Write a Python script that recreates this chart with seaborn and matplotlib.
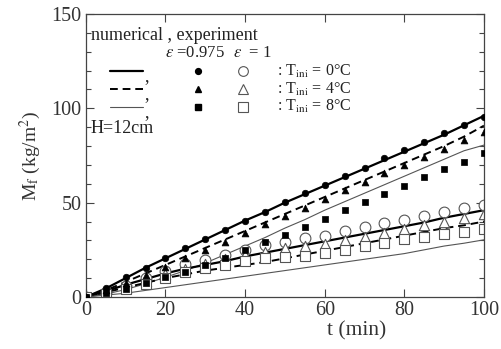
import matplotlib
matplotlib.use("Agg")
import matplotlib.pyplot as plt
from matplotlib.lines import Line2D
from matplotlib.ticker import MultipleLocator
import numpy as np
import pandas as pd
import seaborn as sns


# time axis (min), experiments every 5 minutes
t = [0, 5, 10, 15, 20, 25, 30, 35, 40, 45, 50, 55, 60, 65, 70, 75, 80, 85, 90, 95, 100]

# experiment, eps = 0.975 (filled markers)
exp_e0975_T0 = [0, 4.6, 10.4, 15.5, 20.5, 25.8, 30.6, 35.5, 40.4, 45.0, 50.5, 55.3, 59.5, 64.0, 68.5, 73.5, 77.9, 82.3, 86.8, 91.2, 95.5]
exp_e0975_T4 = [0, 3.5, 7.5, 11.7, 16.0, 20.5, 24.9, 29.3, 33.7, 38.7, 42.9, 47.3, 51.9, 56.5, 61.0, 65.8, 70.2, 74.3, 78.5, 83.2, 87.6]
exp_e0975_T8 = [0, 2.0, 4.5, 7.5, 10.5, 13.5, 17.0, 20.5, 24.9, 29.0, 32.9, 37.3, 41.5, 45.9, 50.3, 54.5, 59.0, 63.5, 67.6, 71.7, 76.2]

# experiment, eps = 1 (open markers)
exp_e1_T0 = [0, 2.5, 6.0, 10.0, 14.0, 17.5, 19.6, 22.3, 25.0, 27.6, 29.3, 31.1, 32.5, 34.8, 37.3, 39.0, 40.8, 42.8, 45.0, 47.0, 49.0]
exp_e1_T4 = [0, 2.0, 5.0, 8.5, 12.0, 15.0, 17.5, 20.0, 22.5, 24.0, 25.8, 27.0, 28.1, 30.0, 32.0, 33.7, 35.9, 38.2, 40.0, 41.7, 44.0]
exp_e1_T8 = [0, 1.5, 4.0, 7.0, 10.0, 13.0, 15.5, 17.0, 19.0, 20.5, 21.0, 21.7, 23.1, 25.0, 27.0, 28.4, 30.6, 32.0, 33.2, 34.6, 36.3]

# numerical results
num_e0975_T0 = [0, 4.5, 10.0, 15.5, 20.5, 25.5, 30.5, 35.5, 40.5, 45.0, 50.0, 54.5, 59.0, 63.5, 68.0, 72.5, 77.0, 81.5, 86.0, 91.0, 96.0]
num_e0975_T4 = [0, 3.5, 8.0, 12.5, 17.0, 21.5, 26.0, 30.5, 35.0, 39.5, 44.0, 48.5, 53.0, 57.5, 62.0, 66.5, 71.0, 75.5, 80.0, 85.0, 90.8]
num_e0975_T8 = [0, 1.5, 4.0, 7.0, 10.5, 14.0, 18.0, 22.5, 27.0, 31.5, 36.5, 41.0, 46.0, 50.5, 55.0, 59.5, 64.0, 68.5, 73.0, 77.5, 80.5]
num_e1_T0 = [0, 3.0, 6.5, 9.5, 12.5, 15.0, 17.0, 19.0, 21.5, 23.5, 25.5, 27.5, 29.5, 31.5, 33.5, 35.5, 37.5, 39.5, 42.0, 44.0, 46.0]
num_e1_T4 = [0, 2.5, 5.0, 7.5, 10.0, 12.0, 14.0, 15.5, 17.0, 18.5, 20.5, 22.5, 24.5, 26.5, 28.5, 30.5, 32.5, 34.5, 36.5, 38.0, 40.0]
num_e1_T8 = [0, 1.0, 2.0, 3.5, 5.0, 6.5, 8.0, 9.5, 11.0, 12.5, 14.0, 15.5, 17.0, 18.5, 20.0, 21.5, 23.0, 25.0, 27.0, 28.5, 30.3]

temp_labels = ["0°C", "4°C", "8°C"]

sns.set_theme(style="ticks")
plt.rcParams["font.family"] = ["Liberation Serif", "DejaVu Serif"]
plt.rcParams["mathtext.fontset"] = "stix"
plt.rcParams["text.color"] = "#222222"
plt.rcParams["axes.labelcolor"] = "#333333"

fig = plt.figure(figsize=(5.02, 3.49), dpi=100)
ax = fig.add_axes([0.171, 0.149, 0.793, 0.811])

line_styles = [
    dict(linestyle="-", linewidth=1.6, color="black"),
    dict(linestyle=(0, (4, 2.5)), linewidth=1.4, color="black"),
    dict(linestyle="-", linewidth=0.8, color="#555555"),
]
for series, style in zip([num_e0975_T0, num_e0975_T4, num_e0975_T8], line_styles):
    sns.lineplot(x=t, y=series, ax=ax, **style)
for series, style in zip([num_e1_T0, num_e1_T4, num_e1_T8], line_styles):
    sns.lineplot(x=t, y=series, ax=ax, **style)

filled = [("o", 22), ("^", 24), ("s", 20)]
hollow = [("o", 60), ("^", 55), ("s", 55)]
for series, (mk, sz) in zip([exp_e0975_T0, exp_e0975_T4, exp_e0975_T8], filled):
    sns.scatterplot(x=t, y=series, marker=mk, s=sz, color="black", edgecolor="black",
                    linewidth=0.5, ax=ax, zorder=3)
for series, (mk, sz) in zip([exp_e1_T0, exp_e1_T4, exp_e1_T8], hollow):
    sns.scatterplot(x=t, y=series, marker=mk, s=sz, facecolor="white", edgecolor="#555555",
                    linewidth=0.8, ax=ax, zorder=2)

ax.set_xlim(0, 100)
ax.set_ylim(0, 150)
ax.set_xticks([0, 20, 40, 60, 80, 100])
ax.set_yticks([0, 50, 100, 150])
ax.yaxis.set_minor_locator(MultipleLocator(10))
ax.tick_params(which="both", direction="in", top=True, right=True, labelsize=14.5,
               color="#444444", labelcolor="#333333", pad=3)
ax.tick_params(which="major", length=6, width=0.8)
ax.tick_params(which="minor", length=3.5, width=0.8)
for sp in ax.spines.values():
    sp.set_color("#444444")
    sp.set_linewidth(0.9)
ax.set_xlabel("t (min)", fontsize=15.5)
ax.xaxis.set_label_coords(0.68, -0.085)
ax.set_ylabel(r"M$_\mathrm{f}$ (kg/m$^2$)", fontsize=14, labelpad=6)

# hand-drawn style legend block
fs = 13
ax.text(0.012, 0.925, "numerical , experiment", transform=ax.transAxes, fontsize=fs, va="center")
ax.text(0.2, 0.862, r"$\varepsilon$ =0.975", transform=ax.transAxes, fontsize=12, va="center")
ax.text(0.37, 0.862, r"$\varepsilon$  = 1", transform=ax.transAxes, fontsize=12, va="center")
rows_y = [0.797, 0.735, 0.673]
for ry, style, (fm, _), (hm, _), lab in zip(rows_y, line_styles, filled, hollow, temp_labels):
    ax.add_line(Line2D([0.06, 0.143], [ry, ry], transform=ax.transAxes, **style))
    ax.text(0.148, ry - 0.02, ",", transform=ax.transAxes, fontsize=fs, va="center")
    ax.add_line(Line2D([0.281], [ry], marker=fm, markersize=4.2, color="black",
                       linestyle="none", transform=ax.transAxes))
    ax.add_line(Line2D([0.395], [ry], marker=hm, markersize=7, markerfacecolor="white",
                       markeredgecolor="#555555", markeredgewidth=0.8, linestyle="none",
                       transform=ax.transAxes))
    ax.text(0.48, ry, r": T$_\mathrm{ini}$ = " + lab, transform=ax.transAxes, fontsize=11.5,
            va="center")
ax.text(0.012, 0.597, "H=12cm", transform=ax.transAxes, fontsize=fs, va="center")

fig.savefig("out.png", dpi=100)
